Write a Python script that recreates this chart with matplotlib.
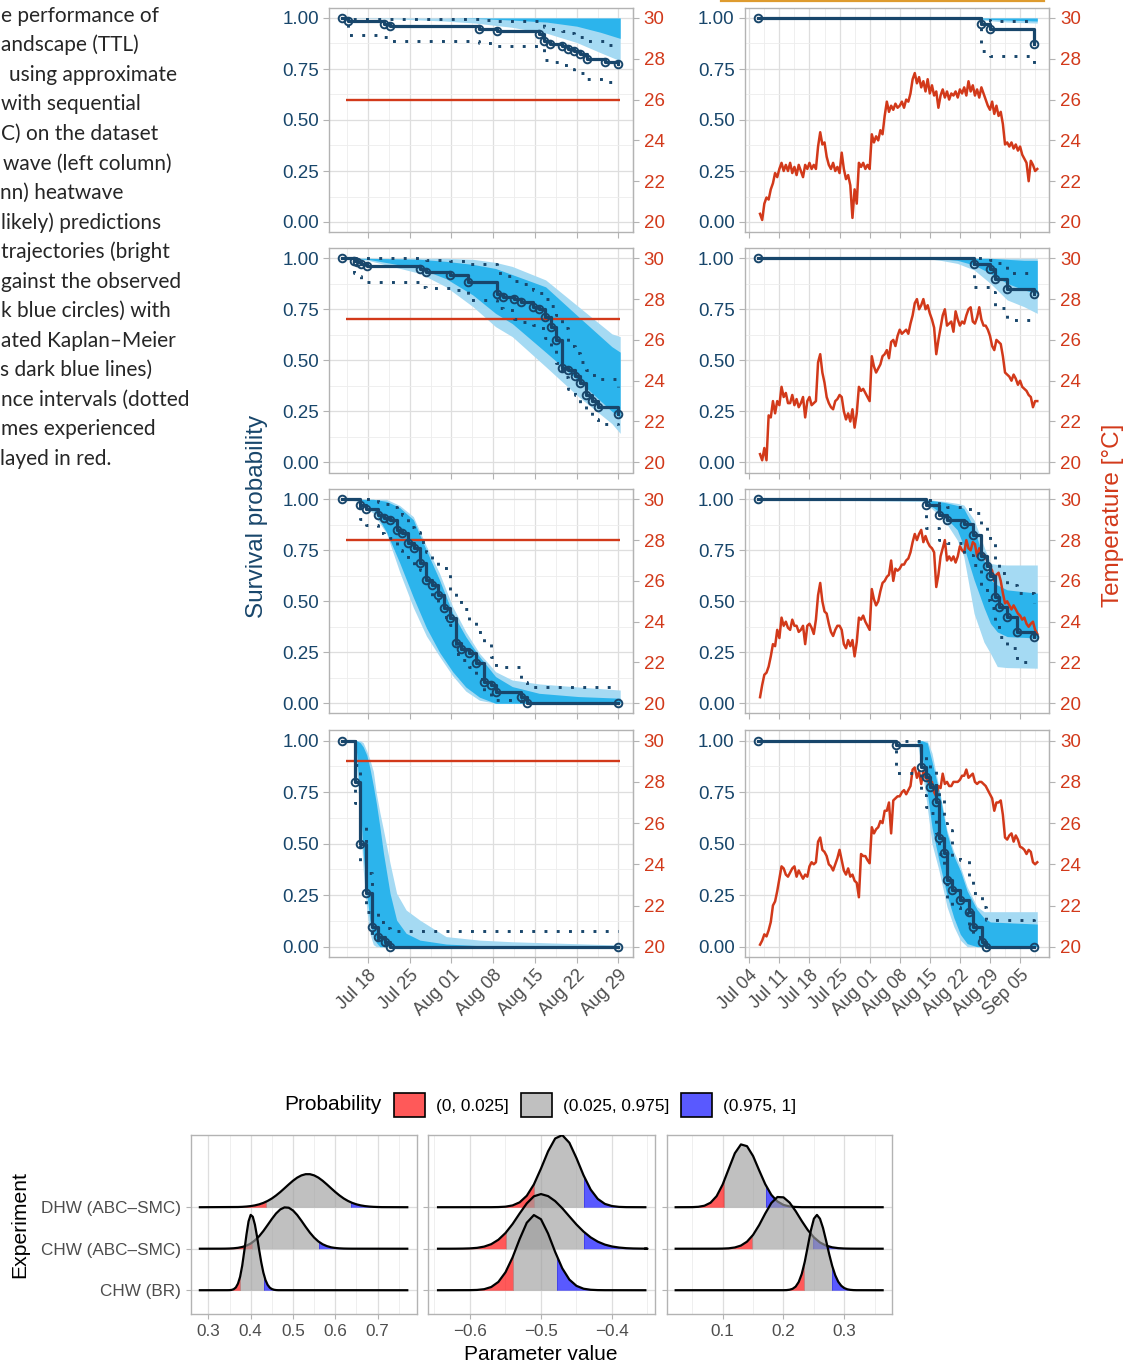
import numpy as np
import matplotlib
matplotlib.use("Agg")
import matplotlib.pyplot as plt
import matplotlib.dates as mdates
from matplotlib.patches import Rectangle, Patch
from matplotlib.lines import Line2D
from matplotlib.ticker import FixedLocator

plt.rcParams['font.family'] = ['Liberation Sans', 'DejaVu Sans']

W, H = 1134, 1366
NAVY = '#18466B'
RED = '#D2391A'
CORE = '#2CB4EC'
HALO = '#A5DAF3'
GREY_TXT = '#4D4D4D'
BORDER = '#B3B3B3'

LEFT_START = np.datetime64('2019-07-18')
RIGHT_START = np.datetime64('2019-07-04')
LEFT_XLIM = (-6.49, 44.4)
RIGHT_XLIM = (-1.0, 69.8)
CONST_TEMP = [26, 27, 28, 29]
CONST_SPAN = (-3.7, 42.3)
TEMP_TICKS = [20, 22, 24, 26, 28, 30]

# ---------------- left column: constant heatwave ----------------
L1_KM_T = [-4.4, -3.3, 2.7, 3.7, 18.6, 21.7, 28.7, 29.6, 30.6, 32.6, 33.6, 34.5, 35.6, 36.7, 39.7, 41.9]
L1_KM_S = [1.0, 0.985, 0.972, 0.959, 0.948, 0.935, 0.923, 0.887, 0.874, 0.861, 0.850, 0.838, 0.825, 0.800, 0.784, 0.776]
L1_CI_HI = [1.0, 0.995, 0.995, 0.995, 0.990, 0.985, 0.975, 0.955, 0.945, 0.935, 0.925, 0.915, 0.905, 0.885, 0.870, 0.866]
L1_CI_LO = [1.0, 0.915, 0.905, 0.887, 0.877, 0.862, 0.855, 0.795, 0.782, 0.768, 0.752, 0.740, 0.728, 0.700, 0.685, 0.678]
L1_ENS_T = [-4.4, 5, 13, 18, 24, 30, 35, 39, 42.3]
L1_OUT_HI = [1.0, 1.0, 1.0, 1.0, 1.0, 1.0, 1.0, 1.0, 1.0]
L1_CORE_HI = [1.0, 1.0, 1.0, 1.0, 1.0, 1.0, 1.0, 1.0, 1.0]
L1_CORE_LO = [1.0, 1.0, 1.0, 0.998, 0.99, 0.98, 0.96, 0.93, 0.90]
L1_OUT_LO = [1.0, 0.995, 0.985, 0.975, 0.955, 0.925, 0.88, 0.83, 0.79]

L2_KM_T = [-4.4, -2.3, -1.8, -1.1, -0.1, 8.7, 9.8, 13.8, 16.8, 21.7, 22.7, 24.5, 25.6, 27.6, 28.7,
           29.7, 30.7, 31.6, 32.6, 33.6, 34.7, 35.6, 36.6, 37.6, 38.6, 41.9]
L2_KM_S = [1.0, 0.989, 0.982, 0.972, 0.962, 0.946, 0.933, 0.920, 0.886, 0.825, 0.812, 0.799, 0.786, 0.763, 0.750,
           0.714, 0.662, 0.600, 0.464, 0.453, 0.423, 0.387, 0.328, 0.300, 0.273, 0.237]
L2_CI_HI = [1.0, 1.0, 1.0, 1.0, 1.0, 0.995, 0.99, 0.985, 0.97, 0.926, 0.915, 0.89, 0.875, 0.845, 0.83,
            0.80, 0.765, 0.72, 0.66, 0.57, 0.535, 0.49, 0.45, 0.43, 0.41, 0.37]
L2_CI_LO = [1.0, 0.93, 0.915, 0.90, 0.886, 0.861, 0.853, 0.845, 0.796, 0.755, 0.745, 0.70, 0.69, 0.673, 0.657,
            0.608, 0.550, 0.485, 0.42, 0.36, 0.33, 0.29, 0.245, 0.21, 0.19, 0.183]
L2_ENS_T = [-4.4, 0, 8.7, 13.1, 17.6, 21.4, 24.2, 29.8, 35.3, 40.9, 42.3]
L2_OUT_HI = [1.0, 1.0, 1.0, 1.0, 0.995, 0.98, 0.96, 0.894, 0.763, 0.63, 0.616]
L2_CORE_HI = [1.0, 1.0, 0.995, 0.985, 0.97, 0.95, 0.92, 0.86, 0.714, 0.567, 0.54]
L2_CORE_LO = [1.0, 0.995, 0.95, 0.90, 0.82, 0.73, 0.68, 0.54, 0.40, 0.25, 0.22]
L2_OUT_LO = [1.0, 0.99, 0.926, 0.86, 0.763, 0.665, 0.616, 0.469, 0.322, 0.19, 0.142]

L3_KM_T = [-4.4, -1.3, -0.3, 1.7, 2.7, 3.7, 4.8, 5.7, 6.7, 7.7, 8.7, 9.7, 10.8, 11.7, 12.7, 13.8, 14.7,
           15.6, 16.9, 18.1, 19.5, 20.7, 21.4, 25.6, 26.7, 41.9]
L3_KM_S = [1.0, 0.972, 0.951, 0.923, 0.910, 0.899, 0.850, 0.837, 0.784, 0.763, 0.686, 0.605, 0.578, 0.531,
           0.466, 0.417, 0.297, 0.265, 0.245, 0.196, 0.106, 0.090, 0.057, 0.029, 0.0, 0.0]
L3_CI_HI = [1.0, 1.0, 1.0, 0.985, 0.975, 0.964, 0.944, 0.925, 0.866, 0.84, 0.79, 0.743, 0.70, 0.673, 0.662,
            0.556, 0.523, 0.46, 0.408, 0.351, 0.30, 0.229, 0.18, 0.106, 0.082, 0.082]
L3_CI_LO = [1.0, 0.902, 0.874, 0.837, 0.825, 0.809, 0.752, 0.73, 0.703, 0.68, 0.654, 0.596, 0.523, 0.482,
            0.425, 0.384, 0.24, 0.21, 0.18, 0.12, 0.05, 0.035, 0.016, 0.0, 0.0, 0.0]
L3_ENS_T = [-4.4, -1.3, 0.9, 3.1, 5.3, 7.6, 9.8, 12.0, 14.2, 16.4, 18.7, 21.4, 24.2, 28.7, 35.3, 42.3]
L3_OUT_HI = [1.0, 1.0, 1.0, 1.0, 0.97, 0.915, 0.77, 0.637, 0.474, 0.351, 0.245, 0.155, 0.114, 0.095, 0.08, 0.065]
L3_CORE_HI = [1.0, 1.0, 1.0, 0.99, 0.96, 0.90, 0.75, 0.605, 0.441, 0.327, 0.229, 0.131, 0.082, 0.049, 0.033, 0.025]
L3_CORE_LO = [1.0, 0.995, 0.95, 0.84, 0.69, 0.52, 0.37, 0.25, 0.155, 0.08, 0.03, 0.0, 0.0, 0.0, 0.0, 0.0]
L3_OUT_LO = [1.0, 0.99, 0.93, 0.833, 0.645, 0.47, 0.33, 0.23, 0.135, 0.06, 0.015, 0.0, 0.0, 0.0, 0.0, 0.0]

L4_KM_T = [-4.4, -2.2, -1.3, -0.3, 0.7, 1.7, 2.8, 3.7, 41.9]
L4_KM_S = [1.0, 0.80, 0.50, 0.262, 0.097, 0.045, 0.024, 0.0, 0.0]
L4_CI_HI = [1.0, 0.88, 0.60, 0.36, 0.18, 0.12, 0.09, 0.076, 0.076]
L4_CI_LO = [1.0, 0.70, 0.40, 0.17, 0.05, 0.013, 0.0, 0.0, 0.0]
L4_ENS_T = [-4.4, -2.4, -1.9, -1.3, -0.8, -0.2, 0.3, 0.9, 1.4, 2.0, 2.6, 3.7, 4.8, 6.4, 8.7, 13.1, 18.7, 24.2, 42.3]
L4_OUT_HI = [1.0, 1.0, 1.0, 1.0, 0.99, 0.95, 0.91, 0.85, 0.744, 0.65, 0.566, 0.405, 0.259, 0.178, 0.129, 0.049, 0.032, 0.024, 0.008]
L4_CORE_HI = [1.0, 1.0, 1.0, 0.99, 0.97, 0.93, 0.87, 0.78, 0.696, 0.58, 0.453, 0.259, 0.129, 0.065, 0.032, 0.013, 0.005, 0.002, 0.0]
L4_CORE_LO = [1.0, 1.0, 0.94, 0.696, 0.453, 0.26, 0.13, 0.05, 0.02, 0.0, 0.0, 0.0, 0.0, 0.0, 0.0, 0.0, 0.0, 0.0, 0.0]
L4_OUT_LO = [1.0, 1.0, 0.86, 0.615, 0.372, 0.178, 0.065, 0.01, 0.0, 0.0, 0.0, 0.0, 0.0, 0.0, 0.0, 0.0, 0.0, 0.0, 0.0]

# ---------------- right column: dynamic heatwave ----------------
R1_KM_T = [2.0, 54.0, 56.1, 66.3]
R1_KM_S = [1.0, 0.972, 0.948, 0.874]
R1_CI_HI = [1.0, 0.99, 0.985, 0.985]
R1_CI_LO = [1.0, 0.84, 0.816, 0.767]
R1_ENS_T = [2.0, 48.4, 54.0, 60.0, 67.0]
R1_OUT_HI = [1.0, 1.0, 1.0, 1.0, 1.0]
R1_CORE_HI = [1.0, 1.0, 1.0, 1.0, 1.0]
R1_CORE_LO = [1.0, 1.0, 0.995, 0.99, 0.985]
R1_OUT_LO = [1.0, 1.0, 0.99, 0.98, 0.975]

R2_KM_T = [2.0, 52.3, 56.1, 57.1, 60.0, 66.3]
R2_KM_S = [1.0, 0.972, 0.946, 0.897, 0.848, 0.825]
R2_CI_HI = [1.0, 1.0, 0.99, 0.975, 0.93, 0.926]
R2_CI_LO = [1.0, 0.86, 0.837, 0.755, 0.698, 0.698]
R2_ENS_T = [2.0, 40.6, 44.5, 48.4, 52.3, 56.1, 60.0, 63.9, 67.0]
R2_OUT_HI = [1.0, 1.0, 1.0, 1.0, 1.0, 1.0, 1.0, 1.0, 1.0]
R2_CORE_HI = [1.0, 1.0, 1.0, 1.0, 1.0, 1.0, 0.995, 0.99, 0.99]
R2_CORE_LO = [1.0, 1.0, 0.998, 0.99, 0.967, 0.926, 0.877, 0.845, 0.828]
R2_OUT_LO = [1.0, 1.0, 0.99, 0.975, 0.943, 0.877, 0.796, 0.763, 0.73]

R3_KM_T = [2.0, 41.0, 44.1, 46.0, 49.9, 52.1, 53.8, 55.2, 56.1, 57.2, 58.1, 60.0, 62.2, 66.3]
R3_KM_S = [1.0, 0.972, 0.923, 0.899, 0.877, 0.825, 0.722, 0.673, 0.624, 0.523, 0.474, 0.425, 0.351, 0.327]
R3_CI_HI = [1.0, 0.995, 0.975, 0.96, 0.95, 0.931, 0.87, 0.833, 0.79, 0.686, 0.64, 0.58, 0.539, 0.49]
R3_CI_LO = [1.0, 0.858, 0.80, 0.784, 0.727, 0.678, 0.572, 0.507, 0.466, 0.392, 0.327, 0.27, 0.204, 0.204]
R3_ENS_T = [2.0, 40.6, 45.3, 48.4, 49.9, 52.3, 54.6, 56.1, 57.7, 60.0, 67.0]
R3_OUT_HI = [1.0, 1.0, 0.99, 0.98, 0.972, 0.899, 0.768, 0.686, 0.68, 0.678, 0.678]
R3_CORE_HI = [1.0, 1.0, 0.985, 0.97, 0.955, 0.86, 0.70, 0.605, 0.58, 0.556, 0.54]
R3_CORE_LO = [1.0, 0.995, 0.92, 0.85, 0.77, 0.605, 0.47, 0.392, 0.35, 0.327, 0.32]
R3_OUT_LO = [1.0, 0.99, 0.90, 0.80, 0.72, 0.44, 0.30, 0.245, 0.18, 0.175, 0.172]

R4_KM_T = [2.0, 34.1, 40.0, 41.0, 42.0, 43.5, 44.1, 45.4, 46.0, 47.2, 49.0, 51.1, 52.1, 54.2, 55.0, 66.3]
R4_KM_S = [1.0, 0.979, 0.874, 0.825, 0.777, 0.704, 0.526, 0.453, 0.324, 0.275, 0.227, 0.170, 0.097, 0.024, 0.0, 0.0]
R4_CI_HI = [1.0, 1.0, 0.94, 0.90, 0.858, 0.777, 0.712, 0.60, 0.566, 0.437, 0.42, 0.324, 0.259, 0.194, 0.13, 0.113]
R4_CI_LO = [1.0, 0.841, 0.736, 0.68, 0.647, 0.55, 0.45, 0.388, 0.227, 0.194, 0.162, 0.097, 0.049, 0.013, 0.0, 0.0]
R4_ENS_T = [2.0, 39.0, 40.2, 41.4, 42.5, 44.1, 46.0, 47.6, 49.1, 50.7, 53.0, 54.6, 56.1, 67.0]
R4_OUT_HI = [1.0, 1.0, 1.0, 1.0, 0.94, 0.777, 0.566, 0.46, 0.39, 0.29, 0.194, 0.17, 0.17, 0.17]
R4_CORE_HI = [1.0, 1.0, 1.0, 0.99, 0.90, 0.76, 0.55, 0.44, 0.37, 0.27, 0.18, 0.14, 0.12, 0.11]
R4_CORE_LO = [1.0, 1.0, 0.93, 0.75, 0.58, 0.42, 0.25, 0.14, 0.06, 0.015, 0.0, 0.0, 0.0, 0.0]
R4_OUT_LO = [1.0, 1.0, 0.858, 0.68, 0.50, 0.372, 0.194, 0.097, 0.032, 0.0, 0.0, 0.0, 0.0, 0.0]

# temperature of the dynamic heatwave, one value every 12 h from Jul 06 12:00
TEMP_DAYS = np.arange(2.5, 67.01, 0.5)
R1_TEMP = [20.4, 20.1, 20.9, 21.2, 21.1, 21.6, 21.9, 22.4, 22.2, 22.6,
           22.9, 22.5, 22.8, 22.5, 22.9, 22.4, 22.7, 22.3, 22.8, 22.5,
           22.2, 22.8, 22.6, 22.9, 22.6, 22.8, 22.6, 23.7, 24.4, 23.8,
           23.9, 23.2, 22.8, 22.6, 22.9, 22.5, 22.7, 22.4, 23.4, 22.6,
           22.1, 22.3, 21.8, 20.2, 21.6, 20.9, 22.9, 22.7, 22.9, 22.6,
           22.8, 22.6, 24.3, 23.9, 24.2, 24.0, 24.5, 24.3, 25.2, 25.9,
           25.4, 25.7, 25.5, 25.8, 25.6, 25.7, 25.9, 25.6, 26.0, 25.9,
           26.3, 27.0, 27.3, 26.8, 27.1, 26.6, 26.9, 26.4, 27.0, 26.3,
           26.7, 26.2, 26.4, 25.6, 26.2, 26.5, 26.1, 26.4, 26.0, 26.3,
           26.2, 26.4, 26.1, 26.5, 26.3, 26.6, 26.2, 26.9, 26.4, 26.7,
           26.2, 26.5, 26.1, 26.6, 26.3, 26.0, 25.7, 25.5, 25.9, 25.3,
           25.7, 25.2, 25.4, 24.8, 23.8, 23.9, 23.7, 23.9, 23.6, 23.8,
           23.5, 23.7, 23.3, 23.1, 22.9, 22.0, 23.0, 22.8, 22.5, 22.6]
R2_TEMP = [20.4, 20.1, 20.7, 20.1, 22.3, 22.2, 23.0, 22.4, 23.0, 22.8,
           23.7, 23.2, 23.4, 22.9, 22.9, 23.3, 22.8, 23.1, 22.7, 22.9,
           23.2, 22.2, 23.0, 23.2, 22.8, 22.9, 23.0, 24.9, 25.3, 24.4,
           23.9, 23.2, 22.9, 22.7, 22.6, 23.0, 23.1, 23.3, 23.2, 22.5,
           22.1, 22.4, 22.0, 22.6, 21.7, 22.4, 23.7, 23.5, 23.6, 23.4,
           23.2, 23.0, 25.2, 24.7, 24.4, 24.6, 24.8, 25.2, 25.3, 25.5,
           25.1, 25.9, 26.0, 25.7, 26.2, 26.5, 26.3, 26.4, 26.5, 26.3,
           26.8, 27.2, 27.8, 28.0, 27.5, 27.7, 28.0, 27.5, 27.7, 27.3,
           27.0, 26.6, 25.3, 26.0, 26.6, 27.2, 27.5, 26.7, 26.8, 26.9,
           26.4, 27.4, 27.0, 26.7, 26.9, 26.8, 27.2, 27.5, 27.6, 26.9,
           26.8, 27.1, 27.6, 27.0, 26.7, 26.7, 26.5, 26.2, 25.7, 25.5,
           26.0, 25.9, 25.8, 25.2, 24.4, 24.3, 24.2, 24.0, 24.3, 24.1,
           23.8, 24.0, 23.7, 23.6, 23.5, 23.3, 23.2, 22.7, 23.0, 23.0]
R3_TEMP = [20.3, 20.9, 21.4, 21.5, 21.8, 22.3, 22.9, 22.8, 23.6, 23.2,
           24.2, 23.8, 24.0, 23.7, 23.6, 24.1, 23.8, 23.8, 23.5, 23.6,
           23.8, 22.9, 23.8, 23.9, 23.7, 23.4, 24.1, 25.3, 25.9, 25.0,
           24.5, 24.4, 23.9, 23.5, 23.3, 23.6, 23.8, 23.8, 23.6, 22.9,
           22.7, 23.1, 22.8, 23.1, 22.3, 23.0, 24.2, 24.1, 24.3, 24.0,
           23.8, 23.6, 25.6, 25.1, 24.8, 25.0, 25.5, 25.9, 26.0, 26.2,
           26.3, 27.0, 26.0, 26.6, 26.5, 26.6, 26.8, 26.8, 27.0, 27.1,
           27.4, 27.9, 28.3, 28.0, 28.3, 28.5, 27.9, 28.2, 27.9, 27.7,
           27.6, 27.4, 25.7, 26.3, 27.2, 27.6, 28.0, 27.0, 27.2, 27.0,
           27.2, 26.9, 27.2, 27.7, 27.5, 27.4, 28.0, 27.6, 27.5, 27.9,
           27.8, 27.2, 27.6, 27.4, 27.3, 27.2, 26.9, 26.7, 26.5, 26.0,
           26.3, 26.4, 26.0, 25.4, 24.9, 25.0, 24.8, 24.6, 24.8, 24.6,
           24.4, 24.3, 24.1, 24.2, 23.9, 23.75, 23.9, 24.0, 23.6, 23.4]
R4_TEMP = [20.1, 20.3, 20.6, 20.5, 20.8, 21.2, 22.0, 22.2, 22.7, 23.3,
           23.9, 23.8, 23.5, 23.4, 23.6, 23.8, 23.9, 23.4, 23.7, 23.5,
           23.3, 23.5, 23.4, 23.9, 24.1, 24.0, 24.1, 25.1, 25.3, 24.7,
           24.6, 24.4, 24.0, 23.9, 23.7, 24.0, 24.3, 24.7, 24.2, 23.7,
           23.5, 23.8, 23.4, 23.5, 23.2, 23.1, 22.4, 24.5, 24.4, 24.4,
           24.2, 24.05, 25.8, 25.5, 25.7, 25.8, 26.1, 26.0, 26.6, 26.6,
           27.0, 25.5, 27.1, 27.2, 27.3, 27.3, 27.5, 27.6, 27.4, 27.6,
           27.8, 28.6, 28.7, 28.2, 28.5, 27.9, 28.5, 28.2, 28.1, 27.9,
           28.0, 27.5, 27.3, 27.8, 27.7, 28.4, 27.9, 28.0, 27.8, 27.8,
           28.0, 28.0, 28.0, 28.1, 28.3, 28.3, 28.6, 28.2, 28.3, 28.4,
           28.0, 27.9, 28.0, 28.0, 27.9, 27.8, 27.6, 27.4, 27.2, 26.6,
           27.0, 27.0, 27.1, 26.4, 25.3, 25.2, 25.4, 25.5, 25.1, 25.4,
           25.2, 24.85, 24.8, 24.7, 24.5, 24.7, 24.6, 24.1, 24.0, 24.1]

# ---------------- posterior densities (ridges) ----------------
RIDGE_ROWS = ['CHW (BR)', 'CHW (ABC–SMC)', 'DHW (ABC–SMC)']
RIDGE_RANGES = [(0.28, 0.77), (-0.645, -0.353), (0.0227, 0.363)]
P1_BR = [0.001, 0.002, 0.008, 0.025, 0.067, 0.159, 0.323, 0.591, 0.950, 1.336, 1.660, 1.815, 1.771,
         1.581, 1.297, 0.974, 0.673, 0.424, 0.246, 0.131, 0.064, 0.029, 0.012, 0.004, 0.001]
P1_CHW = [0.001, 0.002, 0.005, 0.011, 0.022, 0.042, 0.074, 0.125, 0.201, 0.301, 0.427, 0.570, 0.716,
          0.849, 0.947, 0.996, 0.988, 0.922, 0.812, 0.673, 0.526, 0.387, 0.268, 0.175, 0.108, 0.063,
          0.034, 0.018, 0.009, 0.004, 0.002, 0.001]
P1_DHW = [0.005, 0.009, 0.016, 0.027, 0.044, 0.069, 0.104, 0.151, 0.210, 0.283, 0.366, 0.457, 0.550,
          0.638, 0.713, 0.767, 0.796, 0.796, 0.767, 0.713, 0.638, 0.550, 0.457, 0.366, 0.283, 0.210,
          0.151, 0.104, 0.069, 0.044, 0.027, 0.016, 0.009, 0.005, 0.002]
P2_BR = [0.002, 0.007, 0.025, 0.078, 0.200, 0.432, 0.791, 1.234, 1.626, 1.811, 1.710, 1.365, 0.922,
         0.528, 0.256, 0.105, 0.036, 0.011, 0.003, 0.001]
P2_CHW = [0.0, 0.001, 0.003, 0.008, 0.021, 0.051, 0.110, 0.216, 0.378, 0.595, 0.851, 1.092, 1.263,
          1.317, 1.268, 1.147, 0.976, 0.778, 0.583, 0.412, 0.273, 0.170, 0.099, 0.054, 0.028, 0.013,
          0.006, 0.003, 0.001]
P2_DHW = [0.001, 0.004, 0.013, 0.043, 0.118, 0.276, 0.549, 0.931, 1.346, 1.656, 1.737, 1.553, 1.183,
          0.768, 0.425, 0.200, 0.080, 0.028, 0.008, 0.002]
P3_BR = [0.001, 0.003, 0.012, 0.034, 0.087, 0.198, 0.392, 0.688, 1.062, 1.441, 1.724, 1.815, 1.722,
         1.499, 1.198, 0.877, 0.590, 0.363, 0.205, 0.107, 0.051, 0.022, 0.009, 0.003, 0.001]
P3_CHW = [0.001, 0.003, 0.010, 0.030, 0.076, 0.170, 0.334, 0.570, 0.849, 1.101, 1.246, 1.238, 1.112,
          0.906, 0.669, 0.449, 0.273, 0.150, 0.075, 0.034, 0.014, 0.005, 0.002, 0.001]
P3_DHW = [0.002, 0.010, 0.036, 0.108, 0.266, 0.548, 0.926, 1.300, 1.513, 1.471, 1.233, 0.888, 0.555,
          0.298, 0.139, 0.055, 0.019, 0.006, 0.001]
# (first x, spacing) of each density, rows BR, CHW ABC-SMC, DHW ABC-SMC
P1_GRID = [(0.345, 0.005), (0.33, 0.01), (0.37, 0.01)]
P2_GRID = [(-0.60, 0.01), (-0.63, 0.01), (-0.57, 0.01)]
P3_GRID = [(0.200, 0.005), (0.09, 0.01), (0.05, 0.01)]
P1_QUANT = [(0.375, 0.432), (0.402, 0.561), (0.436, 0.637)]
P2_QUANT = [(-0.540, -0.477), (-0.549, -0.439), (-0.510, -0.440)]
P3_QUANT = [(0.2337, 0.280), (0.1477, 0.248), (0.102, 0.171)]
PROB_LABELS = ['(0, 0.025]', '(0.025, 0.975]', '(0.975, 1]']

CAPTION = ["e performance of", "andscape (TTL)", "using approximate", "with sequential",
           "C) on the dataset", "wave (left column)", "nn) heatwave", "likely) predictions",
           "trajectories (bright", "gainst the observed", "k blue circles) with", "ated Kaplan–Meier",
           "s dark blue lines)", "nce intervals (dotted", "mes experienced", "layed in red."]
CAPTION_X = [1, 1, 9, 1, 1, 3, 0, 1, 1, 1, 1, 1, 0, 1, 1, 0]

fig = plt.figure(figsize=(W / 100, H / 100), dpi=100)


def add_px_axes(x0, y0, x1, y1):
    return fig.add_axes([x0 / W, 1 - y1 / H, (x1 - x0) / W, (y1 - y0) / H])


def style_box(ax):
    for sp in ax.spines.values():
        sp.set_color(BORDER)
        sp.set_linewidth(1.0)
    ax.set_axisbelow(True)
    ax.grid(which='major', color='#DEDEDE', lw=0.9)
    ax.grid(which='minor', color='#EDEDED', lw=0.6)


LEFT = [
    (L1_KM_T, L1_KM_S, L1_CI_HI, L1_CI_LO, L1_ENS_T, L1_OUT_LO, L1_OUT_HI, L1_CORE_LO, L1_CORE_HI),
    (L2_KM_T, L2_KM_S, L2_CI_HI, L2_CI_LO, L2_ENS_T, L2_OUT_LO, L2_OUT_HI, L2_CORE_LO, L2_CORE_HI),
    (L3_KM_T, L3_KM_S, L3_CI_HI, L3_CI_LO, L3_ENS_T, L3_OUT_LO, L3_OUT_HI, L3_CORE_LO, L3_CORE_HI),
    (L4_KM_T, L4_KM_S, L4_CI_HI, L4_CI_LO, L4_ENS_T, L4_OUT_LO, L4_OUT_HI, L4_CORE_LO, L4_CORE_HI),
]
RIGHT = [
    (R1_KM_T, R1_KM_S, R1_CI_HI, R1_CI_LO, R1_ENS_T, R1_OUT_LO, R1_OUT_HI, R1_CORE_LO, R1_CORE_HI),
    (R2_KM_T, R2_KM_S, R2_CI_HI, R2_CI_LO, R2_ENS_T, R2_OUT_LO, R2_OUT_HI, R2_CORE_LO, R2_CORE_HI),
    (R3_KM_T, R3_KM_S, R3_CI_HI, R3_CI_LO, R3_ENS_T, R3_OUT_LO, R3_OUT_HI, R3_CORE_LO, R3_CORE_HI),
    (R4_KM_T, R4_KM_S, R4_CI_HI, R4_CI_LO, R4_ENS_T, R4_OUT_LO, R4_OUT_HI, R4_CORE_LO, R4_CORE_HI),
]
RIGHT_TEMPS = [R1_TEMP, R2_TEMP, R3_TEMP, R4_TEMP]

ROW_Y = [(7.8, 232.2), (248.1, 472.5), (489.1, 713.5), (730.4, 957.0)]
COL_X = [(329.3, 632.7), (745.0, 1049.3)]
MINOR_X = mdates.date2num(RIGHT_START) + np.arange(-17.5, 80, 7)


def to_temp(s):
    return 20 + 10 * s


def to_surv(t):
    return (t - 20) / 10


for col, (panels, base, xlim) in enumerate([(LEFT, LEFT_START, LEFT_XLIM), (RIGHT, RIGHT_START, RIGHT_XLIM)]):
    d0 = mdates.date2num(base)
    for row, p in enumerate(panels):
        km_t, km_s, ci_hi, ci_lo, ens_t, out_lo, out_hi, core_lo, core_hi = p
        ax = add_px_axes(COL_X[col][0], ROW_Y[row][0], COL_X[col][1], ROW_Y[row][1])
        style_box(ax)
        te = d0 + np.array(ens_t)
        ax.fill_between(te, out_lo, out_hi, color=HALO, lw=0, zorder=2)
        ax.fill_between(te, core_lo, core_hi, color=CORE, lw=0, zorder=2.1)
        if col == 0:
            ax.hlines(to_surv(CONST_TEMP[row]), d0 + CONST_SPAN[0], d0 + CONST_SPAN[1],
                      color=RED, lw=1.7, zorder=3)
        else:
            ax.plot(d0 + TEMP_DAYS, to_surv(np.array(RIGHT_TEMPS[row])), color=RED, lw=1.8, zorder=3)
        tk = d0 + np.array(km_t)
        ax.step(tk, ci_hi, where='post', color=NAVY, lw=2.1, ls=(0, (1, 3.2)), zorder=4)
        ax.step(tk, ci_lo, where='post', color=NAVY, lw=2.1, ls=(0, (1, 3.2)), zorder=4)
        ax.step(tk, km_s, where='post', color=NAVY, lw=2.3, zorder=4.5)
        ax.plot(tk, km_s, 'o', mfc='none', mec=NAVY, ms=5.5, mew=1.4, zorder=5)

        ax.set_xlim(d0 + xlim[0], d0 + xlim[1])
        ax.set_ylim(-0.05, 1.05)
        ax.set_yticks([0, 0.25, 0.5, 0.75, 1.0])
        ax.set_yticklabels(['0.00', '0.25', '0.50', '0.75', '1.00'])
        ax.yaxis.set_minor_locator(FixedLocator([0.125, 0.375, 0.625, 0.875]))
        ax.xaxis.set_major_locator(mdates.WeekdayLocator(byweekday=mdates.TH))
        ax.xaxis.set_major_formatter(mdates.DateFormatter('%b %d'))
        ax.xaxis.set_minor_locator(FixedLocator(MINOR_X))
        ax.tick_params(which='minor', length=0)
        ax.tick_params(axis='y', which='major', color=BORDER, labelcolor=NAVY, labelsize=13.5,
                       length=4, width=0.8, pad=3.5)
        ax.tick_params(axis='x', which='major', color=BORDER, labelcolor=GREY_TXT, labelsize=13,
                       length=4, width=0.8, pad=3)
        if row < 3:
            ax.tick_params(axis='x', labelbottom=False)
        else:
            for lab in ax.get_xticklabels():
                lab.set_rotation(45)
                lab.set_ha('right')
                lab.set_va('top')
                lab.set_rotation_mode('anchor')
        sec = ax.secondary_yaxis('right', functions=(to_temp, to_surv))
        sec.set_yticks(TEMP_TICKS)
        sec.tick_params(color=BORDER, labelcolor=RED, labelsize=13.5, length=4, width=0.8, pad=4)
        for sp in sec.spines.values():
            sp.set_color(BORDER)

fig.text(256.5 / W, 1 - 516 / H, 'Survival probability', rotation=90, color=NAVY, size=17.5,
         ha='center', va='center')
fig.text(1112.5 / W, 1 - 515 / H, 'Temperature [°C]', rotation=90, color=RED, size=17.5,
         ha='center', va='center')
fig.add_artist(Line2D([721 / W, 1044 / W], [1 - 0.8 / H, 1 - 0.8 / H], color='#DE9B2F', lw=1.6))

# caption (cut at the left edge)
for i, (line, x) in enumerate(zip(CAPTION, CAPTION_X)):
    fig.text(x / W, 1 - (21.7 + 29.55 * i) / H, line, family=['Lato', 'DejaVu Sans'], size=15,
             color='#262626', ha='left', va='baseline')

# ---------------- ridge panels ----------------
FILL_COLS = ['#FF0000', '#9E9E9E', '#0000FF']
RIDGE_X = [(190.7, 417.0), (428.3, 655.0), (666.7, 892.3)]
RIDGE_XLIM = [(0.2583, 0.793), (-0.6587, -0.3394), (0.00795, 0.3789)]
RIDGE_TICKS = [[0.3, 0.4, 0.5, 0.6, 0.7], [-0.6, -0.5, -0.4], [0.1, 0.2, 0.3]]
RIDGE_MINOR = [[0.25, 0.35, 0.45, 0.55, 0.65, 0.75], [-0.65, -0.55, -0.45, -0.35], [0.05, 0.15, 0.25, 0.35]]
ridge_sets = [(P1_BR, P1_CHW, P1_DHW), (P2_BR, P2_CHW, P2_DHW), (P3_BR, P3_CHW, P3_DHW)]
grids = [P1_GRID, P2_GRID, P3_GRID]
quants = [P1_QUANT, P2_QUANT, P3_QUANT]

for j in range(3):
    ax = add_px_axes(RIDGE_X[j][0], 1135, RIDGE_X[j][1], 1314.3)
    style_box(ax)
    ax.grid(which='minor', axis='y', visible=False)
    lo_r, hi_r = RIDGE_RANGES[j]
    for k in (2, 1, 0):
        x0, dx = grids[j][k]
        h = np.array(ridge_sets[j][k])
        xs = x0 + dx * np.arange(len(h))
        xf = np.concatenate([[lo_r], xs, [hi_r]])
        hf = np.concatenate([[0.0], h, [0.0]])
        yb = k + 1
        z = 3 + (2 - k) * 2
        q_lo, q_hi = quants[j][k]
        for a, b, c in [(lo_r - 1, q_lo, FILL_COLS[0]), (q_lo, q_hi, FILL_COLS[1]), (q_hi, hi_r + 1, FILL_COLS[2])]:
            poly = ax.fill_between(xf, yb, yb + hf, color=c, alpha=0.65, lw=0, zorder=z)
            poly.set_clip_path(Rectangle((a, 0), b - a, 10, transform=ax.transData))
        ax.plot(xf, yb + hf, color='black', lw=1.6, zorder=z + 0.5)
    ax.set_xlim(*RIDGE_XLIM[j])
    ax.set_ylim(0.42, 4.74)
    ax.set_xticks(RIDGE_TICKS[j])
    ax.xaxis.set_minor_locator(FixedLocator(RIDGE_MINOR[j]))
    ax.set_yticks([1, 2, 3])
    ax.tick_params(which='minor', length=0)
    ax.tick_params(which='major', color=BORDER, labelcolor=GREY_TXT, labelsize=12.3, length=3.5,
                   width=0.8, pad=3.5)
    if j == 0:
        ax.set_yticklabels(RIDGE_ROWS)
    else:
        ax.set_yticklabels([])

fig.text(20 / W, 1 - 1224 / H, 'Experiment', rotation=90, size=15.2, ha='center', va='center')
fig.text(541 / W, 1 - 1354 / H, 'Parameter value', size=15, ha='center', va='center')
fig.text(284 / W, 1 - 1105 / H, 'Probability', size=15, ha='left', va='center')
handles = [Patch(facecolor=(*matplotlib.colors.to_rgb(c), 0.65), edgecolor='black', lw=1.2, label=l)
           for c, l in zip(FILL_COLS, PROB_LABELS)]
fig.legend(handles=handles, loc='center left', bbox_to_anchor=(394 / W, 1 - 1105 / H), ncol=3,
           frameon=False, fontsize=12.4, handlelength=1.8, handleheight=1.85, handletextpad=0.64,
           columnspacing=0.7, borderpad=0, borderaxespad=0)

fig.savefig('out.png', dpi=100)
